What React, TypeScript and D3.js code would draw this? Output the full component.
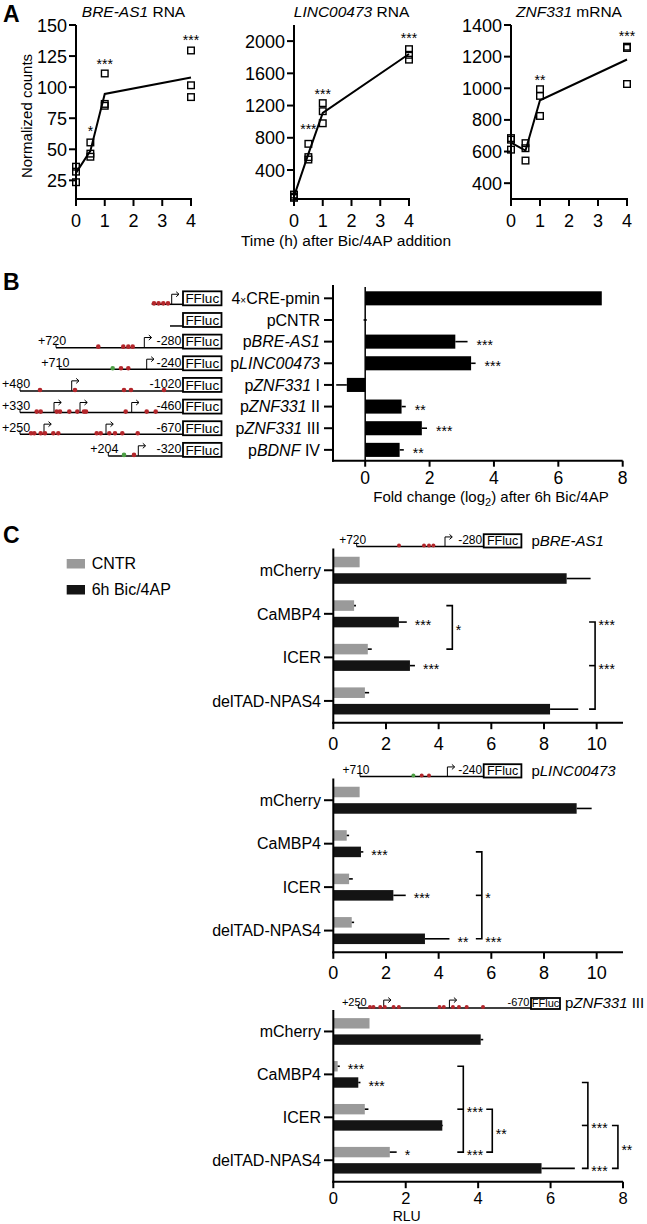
import React from "react";
import * as d3 from "d3";

const FONT = "'Liberation Sans', Arial, sans-serif";
const RED = "#b3262b";
const GREEN = "#4c9f44";
const GRAY = "#9a9a9a";
const BLACK = "#141414";

// ---------- Panel A: time course ----------
const timePoints = [0, 0.5, 1, 4];
const timeTicks = [0, 1, 2, 3, 4];

const breReps = [[36, 32, 23.5], [55.5, 46.5, 44], [111, 86.5, 85], [129.5, 101.5, 92]];
const breMeans = [31, 48.7, 94.5, 107.8];
const breStars = [{ t: 0.5, v: 67, label: "*" }, { t: 1, v: 121, label: "***" }, { t: 4, v: 140, label: "***" }];

const lincReps = [[95, 70, 55], [725, 560, 530], [1230, 1130, 980], [1900, 1830, 1770]];
const lincMeans = [73, 600, 1110, 1840];
const lincStars = [{ t: 0.5, v: 946, label: "***" }, { t: 1, v: 1384, label: "***" }, { t: 4, v: 2075, label: "***" }];

const znfReps = [[685, 675, 612], [653, 621, 543], [994, 952, 825], [1263, 1255, 1027]];
const znfMeans = [657, 606, 924, 1182];
const znfStars = [{ t: 1, v: 1073, label: "**" }, { t: 4, v: 1348, label: "***" }];

// ---------- Panel B: reporter fold change ----------
const constructs = ["4×CRE-pmin", "pCNTR", "pBRE-AS1", "pLINC00473", "pZNF331 I", "pZNF331 II", "pZNF331 III", "pBDNF IV"];
const foldChange = [7.35, 0, 2.8, 3.29, -0.57, 1.13, 1.76, 1.07];
const foldSem = [0, 0.05, 0.38, 0.14, 0.33, 0.13, 0.16, 0.13];
const foldStars = ["", "", "***", "***", "", "**", "***", "**"];
const foldTicks = [0, 2, 4, 6, 8];

// schematic units: 0 = left edge, 183 = reporter start
const schemStart = [151.7, 170, 56, 59.3, 20, 20, 20, 108.3];
const schemStartLabel = ["", "", "+720", "+710", "+480", "+330", "+250", "+204"];
const schemEndLabel = ["", "", "-280", "-240", "-1020", "-460", "-670", "-320"];
const schemRed = [
  [154, 158.6, 163.3, 168],
  [],
  [98.3, 123.3, 128.3, 132.7],
  [121, 128.3],
  [40, 75, 124, 131, 164],
  [36.7, 40.7, 56.7, 60, 69.3, 77.3, 84, 86, 125.7, 146.7, 155.7],
  [31, 34.3, 40.7, 45, 53.3, 58.3, 96.7, 100.7, 109.3, 115, 122.3, 137.7],
  [134],
];
const schemGreen = [[], [], [], [112.7], [], [], [], [124]];
const schemTss = [[171.7], [], [144.3], [146.7], [71.7], [54, 80, 131.7], [44, 106], [138.3]];

// ---------- Panel C: RLU ----------
const groups = ["mCherry", "CaMBP4", "ICER", "delTAD-NPAS4"];
const series = ["CNTR", "Bic"];

const breCntr = [1.0, 0.79, 1.31, 1.2];
const breCntrErr = [0, 0.07, 0.15, 0.16];
const breBic = [8.86, 2.49, 2.91, 8.23];
const breBicErr = [0.91, 0.3, 0.19, 1.07];

const lincCntr = [1.0, 0.51, 0.6, 0.7];
const lincCntrErr = [0, 0.09, 0.14, 0.09];
const lincBic = [9.24, 1.05, 2.28, 3.48];
const lincBicErr = [0.57, 0.09, 0.47, 0.93];

const znfCntr = [1.0, 0.12, 0.87, 1.56];
const znfCntrErr = [0, 0.06, 0.1, 0.19];
const znfBic = [4.07, 0.69, 3.01, 5.75];
const znfBicErr = [0.07, 0.06, 0.02, 0.92];

type Star = { g: string; s: string; label: string };
type Bracket = { x: number; from: [string, string]; to: [string, string]; mid?: [string, string]; labels: { at: [string, string] | "mid"; label: string }[] };

const breRluStars: Star[] = [
  { g: "CaMBP4", s: "Bic", label: "***" },
  { g: "ICER", s: "Bic", label: "***" },
];
const breBrackets: Bracket[] = [
  { x: 4.52, from: ["CaMBP4", "CNTR"], to: ["ICER", "CNTR"], labels: [{ at: "mid", label: "*" }] },
  { x: 9.94, from: ["CaMBP4", "Bic"], to: ["delTAD-NPAS4", "Bic"], mid: ["ICER", "Bic"], labels: [{ at: ["CaMBP4", "Bic"], label: "***" }, { at: ["ICER", "Bic"], label: "***" }] },
];

const lincRluStars: Star[] = [
  { g: "CaMBP4", s: "Bic", label: "***" },
  { g: "ICER", s: "Bic", label: "***" },
  { g: "delTAD-NPAS4", s: "Bic", label: "**" },
];
const lincBrackets: Bracket[] = [
  { x: 5.64, from: ["CaMBP4", "Bic"], to: ["delTAD-NPAS4", "Bic"], mid: ["ICER", "Bic"], labels: [{ at: ["ICER", "Bic"], label: "*" }, { at: ["delTAD-NPAS4", "Bic"], label: "***" }] },
];

const znfRluStars: Star[] = [
  { g: "CaMBP4", s: "CNTR", label: "***" },
  { g: "CaMBP4", s: "Bic", label: "***" },
  { g: "delTAD-NPAS4", s: "CNTR", label: "*" },
];
const znfBrackets: Bracket[] = [
  { x: 3.59, from: ["CaMBP4", "CNTR"], to: ["delTAD-NPAS4", "CNTR"], mid: ["ICER", "CNTR"], labels: [{ at: ["ICER", "CNTR"], label: "***" }, { at: ["delTAD-NPAS4", "CNTR"], label: "***" }] },
  { x: 4.39, from: ["ICER", "CNTR"], to: ["delTAD-NPAS4", "CNTR"], labels: [{ at: "mid", label: "**" }] },
  { x: 7.03, from: ["CaMBP4", "Bic"], to: ["delTAD-NPAS4", "Bic"], mid: ["ICER", "Bic"], labels: [{ at: ["ICER", "Bic"], label: "***" }, { at: ["delTAD-NPAS4", "Bic"], label: "***" }] },
  { x: 7.86, from: ["ICER", "Bic"], to: ["delTAD-NPAS4", "Bic"], labels: [{ at: "mid", label: "**" }] },
];

const constructLabel = (name: string) => {
  if (name.startsWith("4×")) {
    return (
      <>
        4<tspan fontSize={10}>×</tspan>CRE-pmin
      </>
    );
  }
  if (name === "pCNTR") return <>pCNTR</>;
  const [gene, ...rest] = name.slice(1).split(" ");
  return (
    <>
      p<tspan fontStyle="italic">{gene}</tspan>
      {rest.length ? " " + rest.join(" ") : ""}
    </>
  );
};

// ---------- components ----------
function TimeCourse({ title, xr, yDomain, yTicks, reps, means, stars }: any) {
  const x = d3.scaleLinear().domain([0, 4]).range(xr);
  const y = d3.scaleLinear().domain(yDomain).range([199, 25]);
  const line = d3
    .line<number>()
    .x((_, i) => x(timePoints[i]))
    .y((d) => y(d));
  return (
    <g>
      <text x={(xr[0] + xr[1]) / 2} y={17} textAnchor="middle" fontSize={15.5}>
        {title}
      </text>
      <line x1={xr[0]} x2={xr[0]} y1={y(yDomain[1])} y2={200} stroke="#000" strokeWidth={2} />
      <line x1={xr[0] - 1} x2={xr[1] + 1} y1={199} y2={199} stroke="#000" strokeWidth={2} />
      {yTicks.map((t: number) => (
        <g key={t}>
          <line x1={xr[0] - 7} x2={xr[0]} y1={y(t)} y2={y(t)} stroke="#000" strokeWidth={2} />
          <text x={xr[0] - 9} y={y(t) + 6.5} textAnchor="end" fontSize={18}>
            {t}
          </text>
        </g>
      ))}
      {timeTicks.map((t) => (
        <g key={t}>
          <line x1={x(t)} x2={x(t)} y1={199} y2={206} stroke="#000" strokeWidth={2} />
          <text x={x(t)} y={227} textAnchor="middle" fontSize={18}>
            {t}
          </text>
        </g>
      ))}
      <path d={line(means) || ""} fill="none" stroke="#000" strokeWidth={2} />
      {reps.map((r: number[], i: number) =>
        r.map((v, j) => (
          <rect key={i + "-" + j} x={x(timePoints[i]) - 3.3} y={y(v) - 3.3} width={6.6} height={6.6} fill="none" stroke="#000" strokeWidth={1.4} />
        ))
      )}
      {stars.map((s: any, i: number) => (
        <text key={i} x={x(s.t)} y={y(s.v) + 8} textAnchor="middle" fontSize={14}>
          {s.label}
        </text>
      ))}
    </g>
  );
}

function Schematic({ i, sx, lineY, boxW, boxH, font, boxFont, dotR }: any) {
  const boxX = sx(183);
  const arrowH = boxH * 0.72;
  return (
    <g>
      <line x1={sx(schemStart[i])} x2={boxX} y1={lineY} y2={lineY} stroke="#000" strokeWidth={1.5} />
      {schemStartLabel[i] && (
        <>
          <line x1={sx(schemStart[i])} x2={sx(schemStart[i])} y1={lineY} y2={lineY - 4} stroke="#000" strokeWidth={1} />
          <text x={sx(schemStart[i]) - 4} y={lineY - 2.5} textAnchor="middle" fontSize={font}>
            {schemStartLabel[i]}
          </text>
          <text x={boxX - 1.5} y={lineY - 2.5} textAnchor="end" fontSize={font}>
            {schemEndLabel[i]}
          </text>
        </>
      )}
      {schemTss[i].map((p, k) => {
        const ax = sx(p);
        const top = lineY - arrowH;
        return (
          <g key={"a" + k} fill="none" stroke="#000" strokeWidth={1}>
            <path d={`M${ax},${lineY} V${top} H${ax + 7}`} />
            <path d={`M${ax + 4.5},${top - 2.5} L${ax + 7.3},${top} L${ax + 4.5},${top + 2.5}`} />
          </g>
        );
      })}
      {schemRed[i].map((p, k) => (
        <circle key={"r" + k} cx={sx(p)} cy={lineY - 1} r={dotR} fill={RED} />
      ))}
      {schemGreen[i].map((p, k) => (
        <circle key={"g" + k} cx={sx(p)} cy={lineY - 1} r={dotR} fill={GREEN} />
      ))}
      <rect x={boxX} y={lineY + 1 - boxH} width={boxW} height={boxH} fill="#fff" stroke="#000" strokeWidth={1.8} />
      <text x={boxX + boxW / 2} y={lineY + 1 - boxH / 2 + boxFont * 0.36} textAnchor="middle" fontSize={boxFont}>
        FFluc
      </text>
    </g>
  );
}

function FoldPanel() {
  const x = d3.scaleLinear().domain([-1, 8]).range([333, 622.7]);
  const y = d3.scaleBand().domain(constructs).range([287.5, 460.7]).paddingInner(0.35).paddingOuter(0.175);
  const axisY = 460.7;
  const sx = d3.scaleLinear().domain([0, 183]).range([0, 183]);
  return (
    <g>
      {constructs.map((c, i) => {
        const cy = (y(c) as number) + y.bandwidth() / 2;
        const v = foldChange[i];
        const e = foldSem[i];
        const end = v + (v < 0 ? -e : e);
        return (
          <g key={c}>
            <Schematic i={i} sx={sx} lineY={cy + 6} boxW={38.5} boxH={14} font={12.5} boxFont={13.5} dotR={2.3} />
            <text x={320} y={cy + 5.8} textAnchor="end" fontSize={16}>
              {constructLabel(c)}
            </text>
            <line x1={324} x2={333} y1={cy} y2={cy} stroke="#000" strokeWidth={2} />
            <rect x={x(Math.min(0, v))} y={y(c)} width={Math.abs(x(v) - x(0))} height={y.bandwidth()} fill="#000" />
            {e > 0 && v !== 0 && <line x1={x(v)} x2={x(end)} y1={cy} y2={cy} stroke="#000" strokeWidth={1.6} />}
            {v === 0 && <line x1={x(-e)} x2={x(e)} y1={cy} y2={cy} stroke="#000" strokeWidth={1.6} />}
            {foldStars[i] && (
              <text x={x(end) + 9} y={cy + 8} fontSize={14}>
                {foldStars[i]}
              </text>
            )}
          </g>
        );
      })}
      <line x1={x(0)} x2={x(0)} y1={287} y2={axisY} stroke="#000" strokeWidth={1.5} />
      <line x1={333} x2={333} y1={285} y2={axisY + 1} stroke="#000" strokeWidth={2} />
      <line x1={332} x2={622.7} y1={axisY} y2={axisY} stroke="#000" strokeWidth={2} />
      {foldTicks.map((t) => (
        <g key={t}>
          <line x1={x(t)} x2={x(t)} y1={axisY} y2={axisY + 6} stroke="#000" strokeWidth={2} />
          <text x={x(t)} y={484} textAnchor="middle" fontSize={17.5}>
            {t}
          </text>
        </g>
      ))}
      <text x={491} y={501.5} textAnchor="middle" fontSize={15}>
        Fold change (log<tspan dy={4} fontSize={11}>2</tspan>
        <tspan dy={-4}>) after 6h Bic/4AP</tspan>
      </text>
    </g>
  );
}

function RluChart({ top, axisY, xMax, cntr, cntrErr, bic, bicErr, stars, brackets, header, xLabel }: any) {
  const x = d3.scaleLinear().domain([0, xMax]).range([333.3, 623]);
  const gb = d3.scaleBand().domain(groups).range([top, axisY]);
  const sb = d3.scaleBand().domain(series).range([0, gb.bandwidth()]).paddingInner(0.36).paddingOuter(0.5);
  const yOf = (g: string, s: string) => (gb(g) as number) + (sb(s) as number) + sb.bandwidth() / 2;
  const vals: any = { CNTR: [cntr, cntrErr], Bic: [bic, bicErr] };
  const ticks = d3.range(0, xMax === 8 ? 9 : xMax, 2);
  return (
    <g>
      <Schematic i={header.i} sx={header.sx} lineY={top - 2} boxW={header.boxW} boxH={header.boxH} font={header.font} boxFont={header.boxFont} dotR={2} />
      <text x={header.sx(183) + header.boxW + header.gap} y={top - 2.5} fontSize={15}>
        {constructLabel(constructs[header.i])}
      </text>
      {groups.map((g, gi) => {
        const cy = (gb(g) as number) + gb.bandwidth() / 2;
        return (
          <g key={g}>
            <text x={321} y={cy + 5.8} textAnchor="end" fontSize={16}>
              {g}
            </text>
            <line x1={324} x2={333.3} y1={cy} y2={cy} stroke="#000" strokeWidth={2} />
            {series.map((s) => {
              const v = vals[s][0][gi];
              const e = vals[s][1][gi];
              const yc = yOf(g, s);
              return (
                <g key={s}>
                  <rect x={x(0)} y={(gb(g) as number) + (sb(s) as number)} width={x(v) - x(0)} height={sb.bandwidth()} fill={s === "CNTR" ? GRAY : BLACK} />
                  {e > 0 && <line x1={x(v)} x2={x(v + e)} y1={yc} y2={yc} stroke="#000" strokeWidth={1.6} />}
                </g>
              );
            })}
          </g>
        );
      })}
      {stars.map((st: Star, k: number) => {
        const gi = groups.indexOf(st.g);
        const v = vals[st.s][0][gi] + vals[st.s][1][gi];
        return (
          <text key={k} x={x(v) + 8} y={yOf(st.g, st.s) + 8} fontSize={14}>
            {st.label}
          </text>
        );
      })}
      {brackets.map((b: Bracket, k: number) => {
        const bx = x(b.x);
        const y1 = yOf(b.from[0], b.from[1]);
        const y2 = yOf(b.to[0], b.to[1]);
        const ym = b.mid ? yOf(b.mid[0], b.mid[1]) : null;
        return (
          <g key={k}>
            <path d={`M${bx - 6},${y1} H${bx} V${y2} H${bx - 6}`} fill="none" stroke="#000" strokeWidth={1.6} />
            {ym !== null && <line x1={bx - 6} x2={bx} y1={ym} y2={ym} stroke="#000" strokeWidth={1.6} />}
            {b.labels.map((l, j) => {
              const ly = l.at === "mid" ? (y1 + y2) / 2 : yOf(l.at[0], l.at[1]);
              return (
                <text key={j} x={bx + 3.5} y={ly + 8} fontSize={14}>
                  {l.label}
                </text>
              );
            })}
          </g>
        );
      })}
      <line x1={333.3} x2={333.3} y1={top} y2={axisY + 1} stroke="#000" strokeWidth={2} />
      <line x1={332.3} x2={623} y1={axisY} y2={axisY} stroke="#000" strokeWidth={2} />
      {ticks.map((t) => (
        <g key={t}>
          <line x1={x(t)} x2={x(t)} y1={axisY} y2={axisY + 6.5} stroke="#000" strokeWidth={2} />
          <text x={x(t)} y={axisY + (xLabel ? 22.5 : 27)} textAnchor="middle" fontSize={xLabel ? 16.5 : 18}>
            {t}
          </text>
        </g>
      ))}
      {xLabel && (
        <text x={406.7} y={axisY + 38.8} textAnchor="middle" fontSize={14}>
          {xLabel}
        </text>
      )}
    </g>
  );
}

export default function App() {
  const sxC = d3.scaleLinear().domain([0, 183]).range([300.7, 483.7]);
  const sxC3 = d3.scaleLinear().domain([20, 183]).range([358.3, 531]);
  return (
    <svg width={647} height={1224} style={{ position: "absolute", left: 0, top: 0, background: "#fff" }} fontFamily={FONT}>
      <rect width={647} height={1224} fill="#fff" />

      {/* Panel A */}
      <text x={3} y={22} fontSize={23} fontWeight="bold">A</text>
      <text transform="translate(32,116) rotate(-90)" textAnchor="middle" fontSize={15}>
        Normalized counts
      </text>
      <TimeCourse
        title={<><tspan fontStyle="italic">BRE-AS1</tspan> RNA</>}
        xr={[76, 191]}
        yDomain={[10, 150]}
        yTicks={[25, 50, 75, 100, 125, 150]}
        reps={breReps}
        means={breMeans}
        stars={breStars}
      />
      <TimeCourse
        title={<><tspan fontStyle="italic">LINC00473</tspan> RNA</>}
        xr={[294, 409]}
        yDomain={[40, 2200]}
        yTicks={[400, 800, 1200, 1600, 2000]}
        reps={lincReps}
        means={lincMeans}
        stars={lincStars}
      />
      <TimeCourse
        title={<><tspan fontStyle="italic">ZNF331</tspan> mRNA</>}
        xr={[511, 627]}
        yDomain={[300, 1400]}
        yTicks={[400, 600, 800, 1000, 1200, 1400]}
        reps={znfReps}
        means={znfMeans}
        stars={znfStars}
      />
      <text x={346} y={246} textAnchor="middle" fontSize={15.5}>
        Time (h) after Bic/4AP addition
      </text>

      {/* Panel B */}
      <text x={3} y={290} fontSize={23} fontWeight="bold">B</text>
      <FoldPanel />

      {/* Panel C */}
      <text x={3} y={543} fontSize={23} fontWeight="bold">C</text>
      <rect x={66.7} y={559} width={18.3} height={9.5} fill={GRAY} />
      <text x={91.7} y={568.5} fontSize={16}>CNTR</text>
      <rect x={66.7} y={585} width={18.3} height={9.5} fill={BLACK} />
      <text x={91.7} y={594.5} fontSize={16}>6h Bic/4AP</text>

      <RluChart
        top={548.5}
        axisY={722.7}
        xMax={11}
        cntr={breCntr}
        cntrErr={breCntrErr}
        bic={breBic}
        bicErr={breBicErr}
        stars={breRluStars}
        brackets={breBrackets}
        header={{ i: 2, sx: sxC, boxW: 37.7, boxH: 13.3, font: 12, boxFont: 12.5, gap: 10 }}
      />
      <RluChart
        top={778.5}
        axisY={952.3}
        xMax={11}
        cntr={lincCntr}
        cntrErr={lincCntrErr}
        bic={lincBic}
        bicErr={lincBicErr}
        stars={lincRluStars}
        brackets={lincBrackets}
        header={{ i: 3, sx: sxC, boxW: 37.7, boxH: 13.3, font: 12, boxFont: 12.5, gap: 10 }}
      />
      <RluChart
        top={1010}
        axisY={1181.7}
        xMax={8}
        cntr={znfCntr}
        cntrErr={znfCntrErr}
        bic={znfBic}
        bicErr={znfBicErr}
        stars={znfRluStars}
        brackets={znfBrackets}
        header={{ i: 6, sx: sxC3, boxW: 29, boxH: 11, font: 11, boxFont: 11, gap: 5 }}
        xLabel="RLU"
      />
    </svg>
  );
}
